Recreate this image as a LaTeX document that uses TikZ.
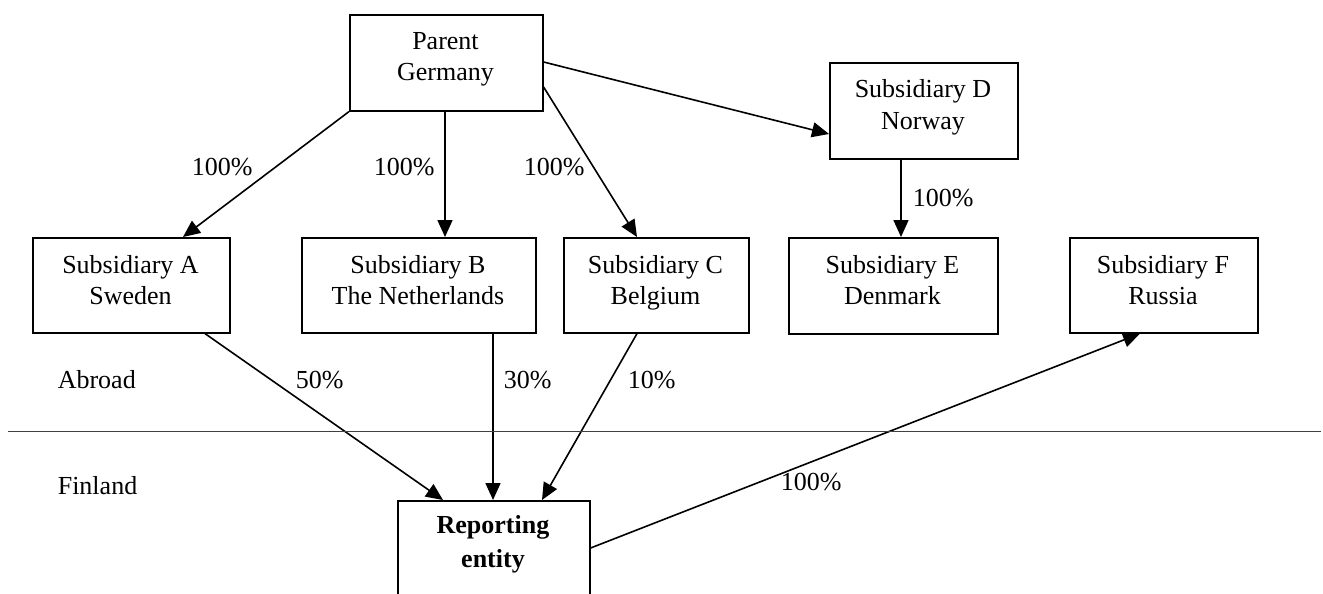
\documentclass[tikz,border=0pt]{standalone}
\usepackage{fontspec}
\setmainfont{Liberation Serif}
\usetikzlibrary{arrows.meta,calc}
\begin{document}
\begin{tikzpicture}[x=1pt,y=-1pt, line width=1.6pt,
  box/.style={draw, rectangle, inner sep=0pt, anchor=north west},
  txt/.style={anchor=base, inner sep=0pt, font=\fontsize{26}{31}\selectfont},
  btxt/.style={txt, font=\fontsize{26}{31}\selectfont\bfseries},
  pct/.style={anchor=base west, inner sep=0pt, font=\fontsize{26}{31}\selectfont},
  arr/.style={-{Triangle[length=17pt,width=15pt]}},
  sep/.style={line width=1pt, black!75}]
\useasboundingbox (0,0) rectangle (1323,594);

% boxes
\node[box, minimum width=193pt, minimum height=96pt] (P) at (349,14) {};
\node[box, minimum width=188pt, minimum height=96pt] (D) at (829,62) {};
\node[box, minimum width=197pt, minimum height=95pt] (A) at (32,237) {};
\node[box, minimum width=234pt, minimum height=95pt] (B) at (301,237) {};
\node[box, minimum width=185pt, minimum height=95pt] (C) at (563,237) {};
\node[box, minimum width=209pt, minimum height=96pt] (E) at (788,237) {};
\node[box, minimum width=188pt, minimum height=95pt] (F) at (1069,237) {};
\node[box, minimum width=192pt, minimum height=140pt] (R) at (397,500) {};

% box texts
\node[txt] at (445.5,50) {Parent};
\node[txt] at (445.5,81) {Germany};
\node[txt] at (923,98) {Subsidiary D};
\node[txt] at (923,129) {Norway};
\node[txt] at (130.5,273) {Subsidiary A};
\node[txt] at (130.5,304) {Sweden};
\node[txt] at (418,273) {Subsidiary B};
\node[txt] at (418,304) {The Netherlands};
\node[txt] at (655.5,273) {Subsidiary C};
\node[txt] at (655.5,304) {Belgium};
\node[txt] at (892.5,273) {Subsidiary E};
\node[txt] at (892.5,304) {Denmark};
\node[txt] at (1163,273) {Subsidiary F};
\node[txt] at (1163,304) {Russia};
\node[btxt] at (493,533) {Reporting};
\node[btxt] at (493,567) {entity};

% connectors
\draw[arr] (P.south west) -- ($(A.north west)+(151,0)$);
\draw[arr] ($(P.south west)+(96,0)$) -- ($(B.north west)+(144,0)$);
\draw[arr] ($(P.north east)+(0,73)$) -- ($(C.north west)+(74,0)$);
\draw[arr] ($(P.north east)+(0,48)$) -- ($(D.north west)+(0,72)$);
\draw[arr] ($(D.south west)+(72,0)$) -- ($(E.north west)+(113,0)$);
\draw[arr] ($(A.south west)+(173,0)$) -- ($(R.north west)+(46,0)$);
\draw[arr] ($(B.south west)+(192,0)$) -- ($(R.north west)+(96,0)$);
\draw[arr] ($(C.south west)+(74,0)$) -- ($(R.north west)+(145,0)$);
\draw[arr] ($(R.north east)+(0,48)$) -- ($(F.south west)+(71,0)$);

% percentages
\node[pct] at (191,175) {100\%};
\node[pct] at (373,175) {100\%};
\node[pct] at (523,175) {100\%};
\node[pct] at (912,206) {100\%};
\node[pct] at (295,388) {50\%};
\node[pct] at (503,388) {30\%};
\node[pct] at (627,388) {10\%};
\node[pct] at (780,490) {100\%};

% region separator and labels
\coordinate (hl) at (8,431);
\coordinate (hr) at (1321,431);
\draw[sep] (hl) -- (hr);
\node[pct] at (57,388) {Abroad};
\node[pct] at (57,494) {Finland};
\end{tikzpicture}
\end{document}
